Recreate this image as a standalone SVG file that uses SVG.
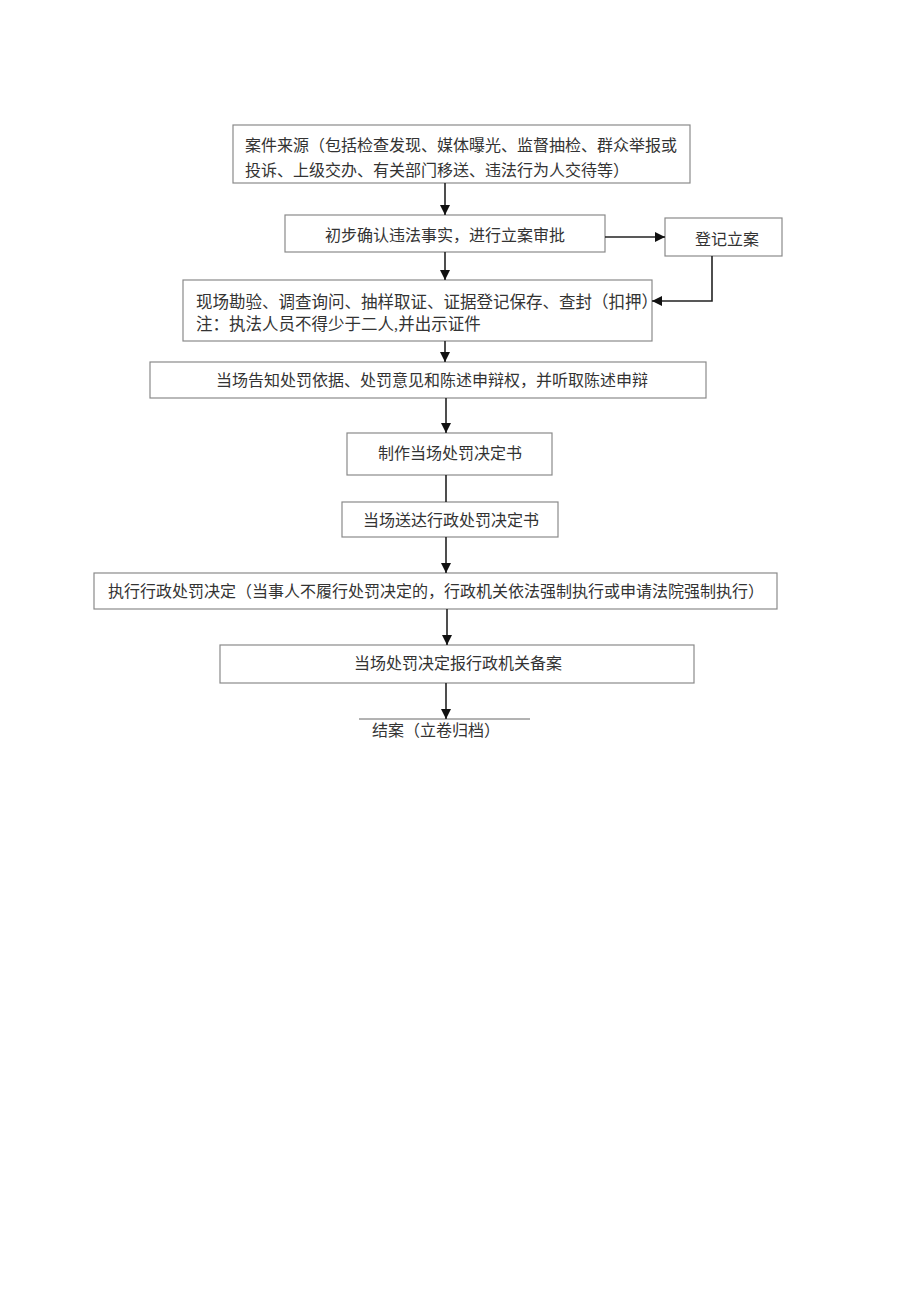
<svg xmlns="http://www.w3.org/2000/svg" width="920" height="1301" viewBox="0 0 920 1301">
<style>
.box{fill:#fff;stroke:#8a8a8a;stroke-width:1.2}
.t{font-family:"Liberation Serif","Noto Sans CJK SC",serif;font-size:16px;fill:#333}
.c{stroke:#222;stroke-width:1.6;fill:none}
</style>
<defs>
<marker id="ah" viewBox="0 0 10 10" refX="10" refY="5" markerWidth="6.5" markerHeight="6.5" orient="auto" markerUnits="strokeWidth">
<path d="M0,0 L10,5 L0,10 z" fill="#111"/>
</marker>
</defs>
<rect width="920" height="1301" fill="#fff"/>
<g id="n1"><rect class="box" x="233" y="125" width="457" height="58"/>
<text class="t" x="245" y="151">案件来源（包括检查发现、媒体曝光、监督抽检、群众举报或</text>
<text class="t" x="245" y="176">投诉、上级交办、有关部门移送、违法行为人交待等）</text></g>
<g id="n2"><rect class="box" x="285" y="215" width="320" height="37"/>
<text class="t" x="445" y="241" text-anchor="middle">初步确认违法事实，进行立案审批</text></g>
<g id="n3"><rect class="box" x="665" y="218" width="117" height="38"/>
<text class="t" x="727" y="245" text-anchor="middle">登记立案</text></g>
<g id="n4"><rect class="box" x="183" y="280" width="469" height="61"/>
<text class="t" x="196" y="308" style="font-size:16.5px">现场勘验、调查询问、抽样取证、证据登记保存、查封（扣押）</text>
<text class="t" x="196" y="330" style="font-size:16.5px">注：执法人员不得少于二人,并出示证件</text></g>
<g id="n5"><rect class="box" x="150" y="362" width="556" height="36"/>
<text class="t" x="432" y="386" text-anchor="middle">当场告知处罚依据、处罚意见和陈述申辩权，并听取陈述申辩</text></g>
<g id="n6"><rect class="box" x="347" y="433" width="205" height="42"/>
<text class="t" x="450" y="459" text-anchor="middle">制作当场处罚决定书</text></g>
<g id="n7"><rect class="box" x="342" y="502" width="216" height="35"/>
<text class="t" x="451" y="526" text-anchor="middle">当场送达行政处罚决定书</text></g>
<g id="n8"><rect class="box" x="94" y="573" width="683" height="36"/>
<text class="t" x="436" y="597" text-anchor="middle">执行行政处罚决定（当事人不履行处罚决定的，行政机关依法强制执行或申请法院强制执行）</text></g>
<g id="n9"><rect class="box" x="220" y="645" width="474" height="38"/>
<text class="t" x="458" y="669" text-anchor="middle">当场处罚决定报行政机关备案</text></g>
<g id="n10"><line x1="359" y1="719" x2="530" y2="719" stroke="#666" stroke-width="1"/>
<text class="t" x="436" y="736" text-anchor="middle">结案（立卷归档）</text></g>
<g id="connectors">
<line class="c" x1="445" y1="183" x2="445" y2="215" marker-end="url(#ah)"/>
<line class="c" x1="605" y1="237" x2="665" y2="237" marker-end="url(#ah)"/>
<line class="c" x1="445" y1="252" x2="445" y2="280" marker-end="url(#ah)"/>
<polyline class="c" points="712,256 712,301 652,301" marker-end="url(#ah)"/>
<line class="c" x1="445" y1="341" x2="445" y2="362" marker-end="url(#ah)"/>
<line class="c" x1="446" y1="398" x2="446" y2="433" marker-end="url(#ah)"/>
<line class="c" x1="446" y1="475" x2="446" y2="502"/>
<line class="c" x1="446" y1="537" x2="446" y2="573" marker-end="url(#ah)"/>
<line class="c" x1="447" y1="609" x2="447" y2="645" marker-end="url(#ah)"/>
<line class="c" x1="446" y1="683" x2="446" y2="719" marker-end="url(#ah)"/>
</g>
</svg>
